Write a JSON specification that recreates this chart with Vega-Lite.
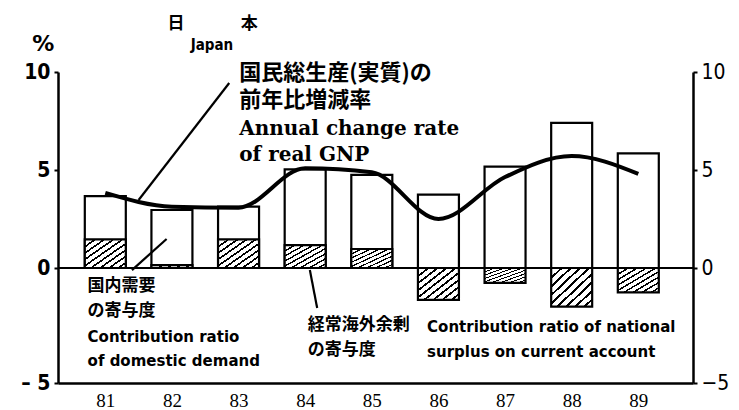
{
  "$schema": "https://vega.github.io/schema/vega-lite/v6.json",
  "width": 635,
  "height": 311,
  "autosize": "none",
  "padding": {"left": 58, "top": 72, "right": 46, "bottom": 27},
  "background": "white",
  "config": {"view": {"stroke": null}},
  "datasets": {
    "japan": [
      {"year": 81, "dom": 3.67, "ext": 1.46, "gnp": 3.83},
      {"year": 82, "dom": 2.96, "ext": 0.15, "gnp": 3.13},
      {"year": 83, "dom": 3.13, "ext": 1.46, "gnp": 3.08},
      {"year": 84, "dom": 5.03, "ext": 1.17, "gnp": 5.09},
      {"year": 85, "dom": 4.75, "ext": 0.97, "gnp": 4.88},
      {"year": 86, "dom": 3.74, "ext": -1.39, "gnp": 2.5},
      {"year": 87, "dom": 5.17, "ext": -0.65, "gnp": 4.64},
      {"year": 88, "dom": 7.4, "ext": -1.68, "gnp": 5.71},
      {"year": 89, "dom": 5.85, "ext": -1.06, "gnp": 4.8}
    ],
    "one": [{"k": 1}]
  },
  "resolve": {"axis": {"y": "independent"}},
  "layer": [
    {
      "data": {"name": "japan"},
      "mark": {"type": "bar", "fill": "white", "stroke": "black", "strokeWidth": 2.2, "size": 41},
      "encoding": {
        "x": {"field": "year", "type": "quantitative",
              "scale": {"domain": [80.365, 89.746], "nice": false, "zero": false},
              "axis": {"values": [81, 82, 83, 84, 85, 86, 87, 88, 89], "format": "d", "title": null,
                       "ticks": false, "grid": false, "domainColor": "black", "domainWidth": 2.5,
                       "labelFont": "Liberation Serif", "labelFontSize": 19, "labelColor": "black",
                       "labelPadding": 8}},
        "y": {"field": "dom", "type": "quantitative",
              "scale": {"domain": [-5, 0, 10], "range": [311, 196, 0], "nice": false, "zero": false},
              "axis": {"orient": "left", "values": [-5, 0, 5, 10], "title": null, "grid": false,
                       "domainColor": "black", "domainWidth": 2.5, "tickColor": "black", "tickWidth": 2,
                       "tickSize": 4, "labelPadding": 4,
                       "labelFont": "Liberation Sans Narrow, DejaVu Sans Condensed, sans-serif",
                       "labelFontWeight": "bold", "labelFontSize": 21, "labelColor": "black",
                       "labelExpr": "datum.value == -5 ? '–  5' : datum.label"}},
        "y2": {"datum": 0}
      }
    },
    {
      "data": {"name": "japan"},
      "mark": {"type": "bar", "stroke": "black", "strokeWidth": 2.2, "size": 41,
               "fill": {"gradient": "linear", "x1": 0, "y1": 0, "x2": 1, "y2": 1, "stops": [
                 {"offset": 0, "color": "black"}, {"offset": 0.035, "color": "black"},
                 {"offset": 0.035, "color": "white"}, {"offset": 0.111, "color": "white"},
                 {"offset": 0.111, "color": "black"}, {"offset": 0.146, "color": "black"},
                 {"offset": 0.146, "color": "white"}, {"offset": 0.222, "color": "white"},
                 {"offset": 0.222, "color": "black"}, {"offset": 0.257, "color": "black"},
                 {"offset": 0.257, "color": "white"}, {"offset": 0.333, "color": "white"},
                 {"offset": 0.333, "color": "black"}, {"offset": 0.368, "color": "black"},
                 {"offset": 0.368, "color": "white"}, {"offset": 0.444, "color": "white"},
                 {"offset": 0.444, "color": "black"}, {"offset": 0.479, "color": "black"},
                 {"offset": 0.479, "color": "white"}, {"offset": 0.556, "color": "white"},
                 {"offset": 0.556, "color": "black"}, {"offset": 0.591, "color": "black"},
                 {"offset": 0.591, "color": "white"}, {"offset": 0.667, "color": "white"},
                 {"offset": 0.667, "color": "black"}, {"offset": 0.702, "color": "black"},
                 {"offset": 0.702, "color": "white"}, {"offset": 0.778, "color": "white"},
                 {"offset": 0.778, "color": "black"}, {"offset": 0.813, "color": "black"},
                 {"offset": 0.813, "color": "white"}, {"offset": 0.889, "color": "white"},
                 {"offset": 0.889, "color": "black"}, {"offset": 0.924, "color": "black"},
                 {"offset": 0.924, "color": "white"}, {"offset": 1, "color": "white"}
               ]}},
      "encoding": {
        "x": {"field": "year", "type": "quantitative"},
        "y": {"field": "ext", "type": "quantitative",
              "axis": {"orient": "right", "values": [-5, 0, 5, 10], "title": null, "grid": false,
                       "domainColor": "black", "domainWidth": 2.5, "tickColor": "black", "tickWidth": 2,
                       "tickSize": 4, "labelPadding": 4,
                       "labelFont": "Liberation Sans Narrow, DejaVu Sans Condensed, sans-serif",
                       "labelFontSize": 21, "labelColor": "black",
                       "labelExpr": "datum.value == -5 ? '−5' : datum.label"}},
        "y2": {"datum": 0}
      }
    },
    {
      "data": {"name": "one"},
      "mark": {"type": "rule", "color": "black", "strokeWidth": 2.2},
      "encoding": {"y": {"datum": 0, "axis": null}}
    },
    {
      "data": {"name": "japan"},
      "mark": {"type": "line", "color": "black", "strokeWidth": 4, "interpolate": "monotone"},
      "encoding": {
        "x": {"field": "year", "type": "quantitative"},
        "y": {"field": "gnp", "type": "quantitative", "axis": null}
      }
    },
    {
      "data": {"name": "one"},
      "mark": {"type": "rule", "color": "black", "strokeWidth": 2.2},
      "encoding": {"x": {"datum": 82.86}, "y": {"datum": 9.44, "axis": null}, "x2": {"datum": 81.5}, "y2": {"datum": 3.47}}
    },
    {
      "data": {"name": "one"},
      "mark": {"type": "rule", "color": "black", "strokeWidth": 2.2},
      "encoding": {"x": {"datum": 81.4}, "y": {"datum": -0.09, "axis": null}, "x2": {"datum": 81.92}, "y2": {"datum": 1.48}}
    },
    {
      "data": {"name": "one"},
      "mark": {"type": "rule", "color": "black", "strokeWidth": 2.2},
      "encoding": {"x": {"datum": 84.07}, "y": {"datum": -0.09, "axis": null}, "x2": {"datum": 84.18}, "y2": {"datum": -1.74}}
    },
    {
      "data": {"name": "one"},
      "mark": {"type": "text", "text": "国民総生産(実質)の", "align": "left", "baseline": "alphabetic",
               "font": "Noto Sans CJK JP", "fontWeight": "bold", "fontSize": 22, "color": "black"},
      "encoding": {"x": {"datum": 83.01}, "y": {"datum": 9.59, "axis": null}}
    },
    {
      "data": {"name": "one"},
      "mark": {"type": "text", "text": "前年比増減率", "align": "left", "baseline": "alphabetic",
               "font": "Noto Sans CJK JP", "fontWeight": "bold", "fontSize": 22, "color": "black"},
      "encoding": {"x": {"datum": 83.01}, "y": {"datum": 8.21, "axis": null}}
    },
    {
      "data": {"name": "one"},
      "mark": {"type": "text", "text": "Annual change rate", "align": "left", "baseline": "alphabetic",
               "font": "DejaVu Serif", "fontWeight": "bold", "fontSize": 20, "color": "black"},
      "encoding": {"x": {"datum": 83.01}, "y": {"datum": 6.79, "axis": null}}
    },
    {
      "data": {"name": "one"},
      "mark": {"type": "text", "text": "of real GNP", "align": "left", "baseline": "alphabetic",
               "font": "DejaVu Serif", "fontWeight": "bold", "fontSize": 20, "color": "black"},
      "encoding": {"x": {"datum": 83.01}, "y": {"datum": 5.46, "axis": null}}
    },
    {
      "data": {"name": "one"},
      "mark": {"type": "text", "text": "国内需要", "align": "left", "baseline": "alphabetic",
               "font": "Noto Sans CJK JP", "fontWeight": "bold", "fontSize": 17, "color": "black"},
      "encoding": {"x": {"datum": 80.734}, "y": {"datum": -1.0, "axis": null}}
    },
    {
      "data": {"name": "one"},
      "mark": {"type": "text", "text": "の寄与度", "align": "left", "baseline": "alphabetic",
               "font": "Noto Sans CJK JP", "fontWeight": "bold", "fontSize": 17, "color": "black"},
      "encoding": {"x": {"datum": 80.734}, "y": {"datum": -2.09, "axis": null}}
    },
    {
      "data": {"name": "one"},
      "mark": {"type": "text", "text": "Contribution ratio", "align": "left", "baseline": "alphabetic",
               "font": "DejaVu Sans", "fontWeight": "bold", "fontSize": 15, "color": "black"},
      "encoding": {"x": {"datum": 80.734}, "y": {"datum": -3.22, "axis": null}}
    },
    {
      "data": {"name": "one"},
      "mark": {"type": "text", "text": "of domestic demand", "align": "left", "baseline": "alphabetic",
               "font": "DejaVu Sans", "fontWeight": "bold", "fontSize": 15, "color": "black"},
      "encoding": {"x": {"datum": 80.734}, "y": {"datum": -4.26, "axis": null}}
    },
    {
      "data": {"name": "one"},
      "mark": {"type": "text", "text": "経常海外余剰", "align": "left", "baseline": "alphabetic",
               "font": "Noto Sans CJK JP", "fontWeight": "bold", "fontSize": 17, "color": "black"},
      "encoding": {"x": {"datum": 84.04}, "y": {"datum": -2.7, "axis": null}}
    },
    {
      "data": {"name": "one"},
      "mark": {"type": "text", "text": "の寄与度", "align": "left", "baseline": "alphabetic",
               "font": "Noto Sans CJK JP", "fontWeight": "bold", "fontSize": 17, "color": "black"},
      "encoding": {"x": {"datum": 84.04}, "y": {"datum": -3.79, "axis": null}}
    },
    {
      "data": {"name": "one"},
      "mark": {"type": "text", "text": "Contribution ratio of national", "align": "left", "baseline": "alphabetic",
               "font": "DejaVu Sans", "fontWeight": "bold", "fontSize": 15, "color": "black"},
      "encoding": {"x": {"datum": 85.83}, "y": {"datum": -2.77, "axis": null}}
    },
    {
      "data": {"name": "one"},
      "mark": {"type": "text", "text": "surplus on current account", "align": "left", "baseline": "alphabetic",
               "font": "DejaVu Sans", "fontWeight": "bold", "fontSize": 15, "color": "black"},
      "encoding": {"x": {"datum": 85.83}, "y": {"datum": -3.86, "axis": null}}
    },
    {
      "data": {"name": "one"},
      "mark": {"type": "text", "text": "日", "align": "center", "baseline": "alphabetic",
               "font": "Noto Sans CJK JP", "fontWeight": "bold", "fontSize": 17, "color": "black"},
      "encoding": {"x": {"datum": 82.06}, "y": {"datum": 12.19, "axis": null}}
    },
    {
      "data": {"name": "one"},
      "mark": {"type": "text", "text": "本", "align": "center", "baseline": "alphabetic",
               "font": "Noto Sans CJK JP", "fontWeight": "bold", "fontSize": 17, "color": "black"},
      "encoding": {"x": {"datum": 83.16}, "y": {"datum": 12.19, "axis": null}}
    },
    {
      "data": {"name": "one"},
      "mark": {"type": "text", "text": "Japan", "align": "center", "baseline": "alphabetic",
               "font": "Liberation Sans Narrow, DejaVu Sans Condensed, sans-serif", "fontWeight": "bold", "fontSize": 15, "color": "black"},
      "encoding": {"x": {"datum": 82.6}, "y": {"datum": 11.12, "axis": null}}
    },
    {
      "data": {"name": "one"},
      "mark": {"type": "text", "text": "%", "align": "center", "baseline": "middle",
               "font": "DejaVu Sans", "fontWeight": "bold", "fontSize": 22, "color": "black"},
      "encoding": {"x": {"datum": 80.07}, "y": {"datum": 11.43, "axis": null}}
    }
  ]
}
